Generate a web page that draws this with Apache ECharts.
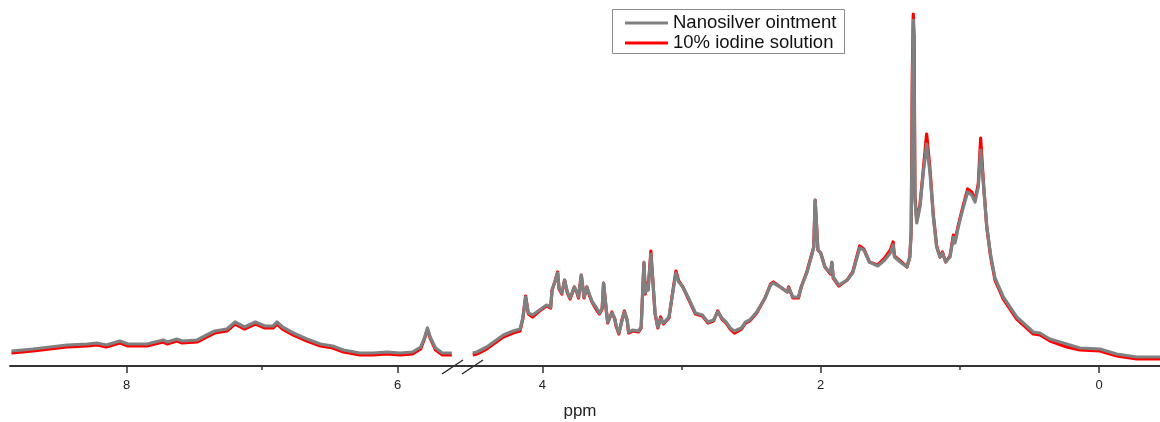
<!DOCTYPE html>
<html>
<head>
<meta charset="utf-8">
<script src="https://cdn.jsdelivr.net/npm/echarts@6/dist/echarts.min.js"></script>
<style>
  html, body { margin: 0; padding: 0; background: #fff; }
  #chart { width: 1160px; height: 422px; }
</style>
</head>
<body>
<div id="chart"></div>
<script>
// Left part of the broken axis (aromatic region)
const leftPpm = [8.85, 8.69, 8.44, 8.29, 8.22, 8.15, 8.05, 7.99, 7.85, 7.73, 7.70, 7.63, 7.59, 7.48, 7.41, 7.35, 7.26, 7.20, 7.13, 7.05,
  6.98, 6.92, 6.89, 6.85, 6.77, 6.67, 6.57, 6.48, 6.40, 6.28, 6.18, 6.08, 5.98, 5.89, 5.83, 5.80, 5.78, 5.76, 5.72, 5.67, 5.60];
const leftGray = [15, 17, 21, 22, 23, 21, 25, 22, 22, 26, 24, 27, 25, 26, 31, 35, 37, 44, 39, 44,
  40, 40, 44, 39, 33, 27, 22, 20, 16, 13, 13, 14, 13, 14, 19, 29, 38, 29, 18, 13, 13];
const leftRed = [13, 15, 19, 20, 21, 19, 23, 20, 20, 24, 22, 25, 23, 24, 29, 33, 35, 42, 37, 42,
  38, 38, 42, 37, 31, 25, 20, 18, 14, 11, 11, 12, 11, 12, 17, 28, 37, 28, 16, 11, 11];

// Right part of the broken axis (aliphatic region)
const rightPpm = [4.50, 4.47, 4.40, 4.38, 4.28, 4.21, 4.16, 4.14, 4.12, 4.10, 4.07, 4.02, 3.97, 3.94, 3.93, 3.91, 3.89, 3.88, 3.86, 3.84,
  3.82, 3.80, 3.77, 3.75, 3.74, 3.72, 3.70, 3.68, 3.66, 3.64, 3.61, 3.59, 3.57, 3.56, 3.54, 3.53, 3.50, 3.48, 3.47, 3.45,
  3.43, 3.41, 3.39, 3.38, 3.35, 3.31, 3.29, 3.27, 3.26, 3.25, 3.24, 3.22, 3.21, 3.19, 3.17, 3.15, 3.13, 3.09, 3.06, 3.04,
  3.02, 2.99, 2.95, 2.90, 2.85, 2.81, 2.77, 2.74, 2.71, 2.68, 2.65, 2.62, 2.57, 2.54, 2.51, 2.46, 2.40, 2.36, 2.34, 2.29,
  2.24, 2.23, 2.20, 2.16, 2.14, 2.10, 2.06, 2.05, 2.04, 2.02, 2.00, 1.97, 1.93, 1.92, 1.91, 1.87, 1.81, 1.77, 1.72, 1.69,
  1.65, 1.59, 1.54, 1.50, 1.48, 1.47, 1.42, 1.38, 1.36, 1.35, 1.342, 1.335, 1.329, 1.323, 1.31, 1.287, 1.263, 1.239, 1.215, 1.191,
  1.167, 1.143, 1.126, 1.102, 1.071, 1.047, 1.035, 1.016, 0.999, 0.975, 0.944, 0.915, 0.891, 0.868, 0.851, 0.832, 0.807, 0.78, 0.748, 0.688,
  0.592, 0.473, 0.425, 0.353, 0.233, 0.138, -0.006, -0.126, -0.27, -0.438];
const rightGray = [13, 14, 19, 21, 31, 35, 37, 48, 69, 53, 51, 56, 61, 59, 76, 84, 93, 78, 73, 86,
  74, 68, 79, 74, 69, 91, 69, 79, 71, 64, 58, 53, 58, 83, 56, 44, 53, 48, 41, 33,
  44, 54, 46, 34, 36, 35, 39, 104, 73, 81, 76, 112, 93, 53, 39, 47, 43, 49, 76, 93,
  84, 79, 68, 53, 51, 44, 46, 54, 48, 44, 38, 35, 38, 44, 46, 54, 68, 81, 83, 79,
  74, 78, 69, 69, 79, 93, 113, 119, 166, 116, 113, 99, 93, 104, 89, 81, 86, 93, 118, 116,
  104, 100, 106, 113, 121, 109, 103, 99, 109, 133, 266, 346, 300, 166, 143, 159, 193, 222, 193, 149,
  119, 109, 113, 104, 109, 129, 123, 136, 146, 159, 174, 171, 164, 179, 216, 183, 139, 112, 88, 69,
  49, 34, 33, 27, 22, 18, 17, 12, 9, 9];
const rightRed = [11, 12, 17, 19, 29, 33, 35, 47, 70, 52, 49, 55, 60, 58, 76, 84, 94, 77, 72, 86,
  73, 67, 79, 73, 68, 91, 68, 79, 70, 63, 56, 52, 57, 83, 55, 43, 54, 47, 40, 32,
  45, 55, 45, 33, 35, 34, 38, 103, 72, 83, 76, 115, 94, 52, 38, 49, 42, 48, 77, 95,
  85, 79, 67, 52, 50, 43, 45, 55, 47, 43, 37, 33, 37, 43, 45, 53, 68, 82, 84, 79,
  74, 79, 68, 68, 79, 94, 114, 119, 166, 116, 113, 99, 92, 103, 88, 80, 86, 94, 120, 117,
  104, 101, 108, 116, 124, 110, 104, 99, 109, 135, 290, 352, 330, 170, 145, 161, 196, 232, 197, 151,
  120, 109, 114, 104, 110, 131, 125, 138, 148, 161, 177, 174, 166, 182, 228, 186, 139, 110, 86, 67,
  47, 32, 31, 25, 19, 16, 15, 10, 7, 7];

// Tick marks
const leftMajorTicks = [8, 6];
const leftMinorTicks = [7];
const rightMajorTicks = [4, 2, 0];
const rightMinorTicks = [3, 1];

const grayName = "Nanosilver ointment";
const redName = "10% iodine solution";
const grayColor = "#808080";
const redColor = "#ff0000";
const axisColor = "#333";

function pares(xs, ys) {
  return xs.map((x, i) => [x, ys[i]]);
}

function ejeMayor(grid, min, max, ticks) {
  return {
    gridIndex: grid, type: "value", inverse: true, min: min, max: max, position: "bottom",
    axisLine: { show: true, onZero: false, lineStyle: { color: axisColor, width: 2 } },
    axisTick: { show: true, customValues: ticks, length: 7, lineStyle: { color: axisColor, width: 1.5 } },
    axisLabel: { customValues: ticks, margin: 13, color: "#222", fontSize: 13, fontFamily: "Liberation Sans, Arial, sans-serif" },
    splitLine: { show: false }
  };
}

function ejeMenor(grid, min, max, ticks) {
  return {
    gridIndex: grid, type: "value", inverse: true, min: min, max: max, position: "bottom",
    axisLine: { show: false },
    axisTick: { show: true, customValues: ticks, length: 4, lineStyle: { color: axisColor, width: 1.5 } },
    axisLabel: { show: false },
    splitLine: { show: false }
  };
}

function serie(name, color, xIdx, data) {
  return {
    name: name, type: "line", xAxisIndex: xIdx, yAxisIndex: xIdx < 2 ? 0 : 1,
    data: data, symbol: "none", smooth: false,
    lineStyle: { color: color, width: 3.2, join: "round" },
    itemStyle: { color: color }
  };
}

const chart = echarts.init(document.getElementById("chart"), null, { renderer: "canvas" });

const option = {
  animation: false,
  backgroundColor: "#fff",
  grid: [
    { left: 10, width: 452, top: 10, bottom: 56 },
    { left: 462, width: 698, top: 10, bottom: 56 }
  ],
  xAxis: [
    ejeMayor(0, 5.525, 8.861, leftMajorTicks),
    ejeMenor(0, 5.525, 8.861, leftMinorTicks),
    ejeMayor(1, -0.4375, 4.577, rightMajorTicks),
    ejeMenor(1, -0.4375, 4.577, rightMinorTicks)
  ],
  yAxis: [
    { gridIndex: 0, type: "value", min: 0, max: 356, show: false },
    { gridIndex: 1, type: "value", min: 0, max: 356, show: false }
  ],
  legend: {
    data: [grayName, redName],
    orient: "vertical",
    left: 625, top: 13, padding: 0, itemGap: 0,
    itemWidth: 43, itemHeight: 3, icon: "rect",
    z: 10,
    textStyle: { fontSize: 18.5, lineHeight: 20, color: "#111", fontFamily: "Liberation Sans, Arial, sans-serif" }
  },
  series: [
    serie(redName, redColor, 0, pares(leftPpm, leftRed)),
    serie(redName, redColor, 2, pares(rightPpm, rightRed)),
    serie(grayName, grayColor, 0, pares(leftPpm, leftGray)),
    serie(grayName, grayColor, 2, pares(rightPpm, rightGray))
  ],
  graphic: [
    // caja de la leyenda
    { type: "rect", z: 0, shape: { x: 612.5, y: 9.5, width: 232, height: 44 },
      style: { fill: "#fff", stroke: "#8c8c8c", lineWidth: 1 } },
    // marcas de corte del eje
    { type: "line", shape: { x1: 442, y1: 374, x2: 463, y2: 360 }, style: { stroke: "#222", lineWidth: 1.3 } },
    { type: "line", shape: { x1: 462, y1: 374, x2: 483, y2: 360 }, style: { stroke: "#222", lineWidth: 1.3 } },
    // título del eje
    { type: "text", x: 580, y: 411,
      style: { text: "ppm", fontSize: 17, fill: "#222", align: "center", verticalAlign: "middle",
        fontFamily: "Liberation Sans, Arial, sans-serif" } }
  ]
};

chart.setOption(option);
</script>
</body>
</html>
